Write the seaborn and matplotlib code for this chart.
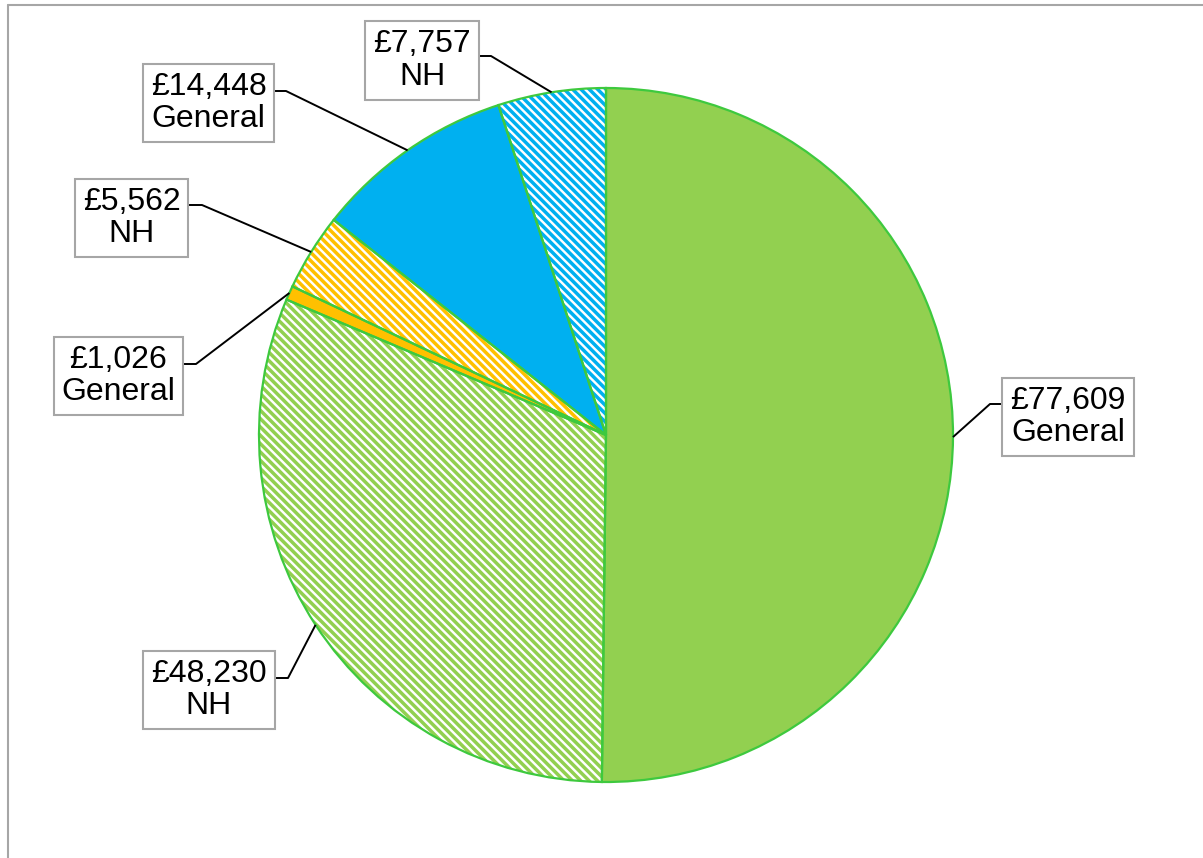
import matplotlib
matplotlib.use("Agg")
import matplotlib.pyplot as plt
import seaborn as sns
import numpy as np
from matplotlib.lines import Line2D

# Spend by fund, clockwise from 12 o'clock
amounts = [77609, 48230, 1026, 5562, 14448, 7757]
funds = ["General", "NH", "General", "NH", "General", "NH"]
slice_colors = ["#92D050", "#92D050", "#FFC000", "#FFC000", "#00B0F0", "#00B0F0"]

sns.set_theme(style="white")
plt.rcParams["font.family"] = ["Liberation Sans", "DejaVu Sans"]
plt.rcParams["hatch.linewidth"] = 2.5

W, H = 1203, 858
fig = plt.figure(figsize=(W / 100, H / 100), dpi=100)
ax = fig.add_axes([0, 0, 1, 1])

# pixel layout helpers: pie centre and radius in pixels
CX, CY, R = 606, 435, 347


def to_data(px, py):
    return (px - CX) / R, (CY - py) / R


wedges, _ = ax.pie(amounts, colors=slice_colors, startangle=90,
                   counterclock=False, wedgeprops=dict(linewidth=0))
for w, fund, c in zip(wedges, funds, slice_colors):
    if fund == "NH":
        w.set_facecolor("white")
        w.set_edgecolor(c)
        w.set_hatch("\\\\\\\\")
        w.set_linewidth(0)

# green outline drawn on top of every slice
outline, _ = ax.pie(amounts, startangle=90, counterclock=False,
                    colors=["none"] * len(amounts),
                    wedgeprops=dict(linewidth=1.6, edgecolor="#3EC93E", fill=False))

# label boxes: centre, leader start, leader kink (pixels)
label_layout = [
    ((1068, 417), (1002, 404), (990, 404)),
    ((209, 690), (275, 678), (288, 678)),
    ((118.5, 376), (184, 364), (196, 364)),
    ((131.5, 218), (189, 205), (202, 205)),
    ((208.5, 103), (274, 91), (286, 91)),
    ((422, 60.5), (479, 56), (491, 56)),
]

for w, amt, fund, (centre, start, kink) in zip(wedges, amounts, funds, label_layout):
    mid = np.deg2rad((w.theta1 + w.theta2) / 2)
    ex, ey = np.cos(mid), np.sin(mid)
    sx, sy = to_data(*start)
    kx, ky = to_data(*kink)
    ax.plot([sx, kx, ex], [sy, ky, ey], color="black", lw=1.4, zorder=3,
            solid_capstyle="butt")
    tx, ty = to_data(*centre)
    ax.text(tx, ty, f"£{amt:,}\n{fund}", ha="center", va="center",
            multialignment="center", fontsize=23, color="black", zorder=5,
            linespacing=1.12,
            bbox=dict(boxstyle="square,pad=0.25", facecolor="white",
                      edgecolor="#A6A6A6", linewidth=1.5))

x0, y1 = to_data(0, 0)
x1, y0 = to_data(W, H)
ax.set_xlim(x0, x1)
ax.set_ylim(y0, y1)
ax.set_aspect("auto")
ax.axis("off")

# chart area frame
fig.add_artist(Line2D([8 / W, 1.0], [1 - 5 / H, 1 - 5 / H], transform=fig.transFigure,
                      color="#A6A6A6", lw=1.5))
fig.add_artist(Line2D([8 / W, 8 / W], [0.0, 1 - 5 / H], transform=fig.transFigure,
                      color="#A6A6A6", lw=1.5))

fig.savefig("out.png", dpi=100, facecolor="white")
